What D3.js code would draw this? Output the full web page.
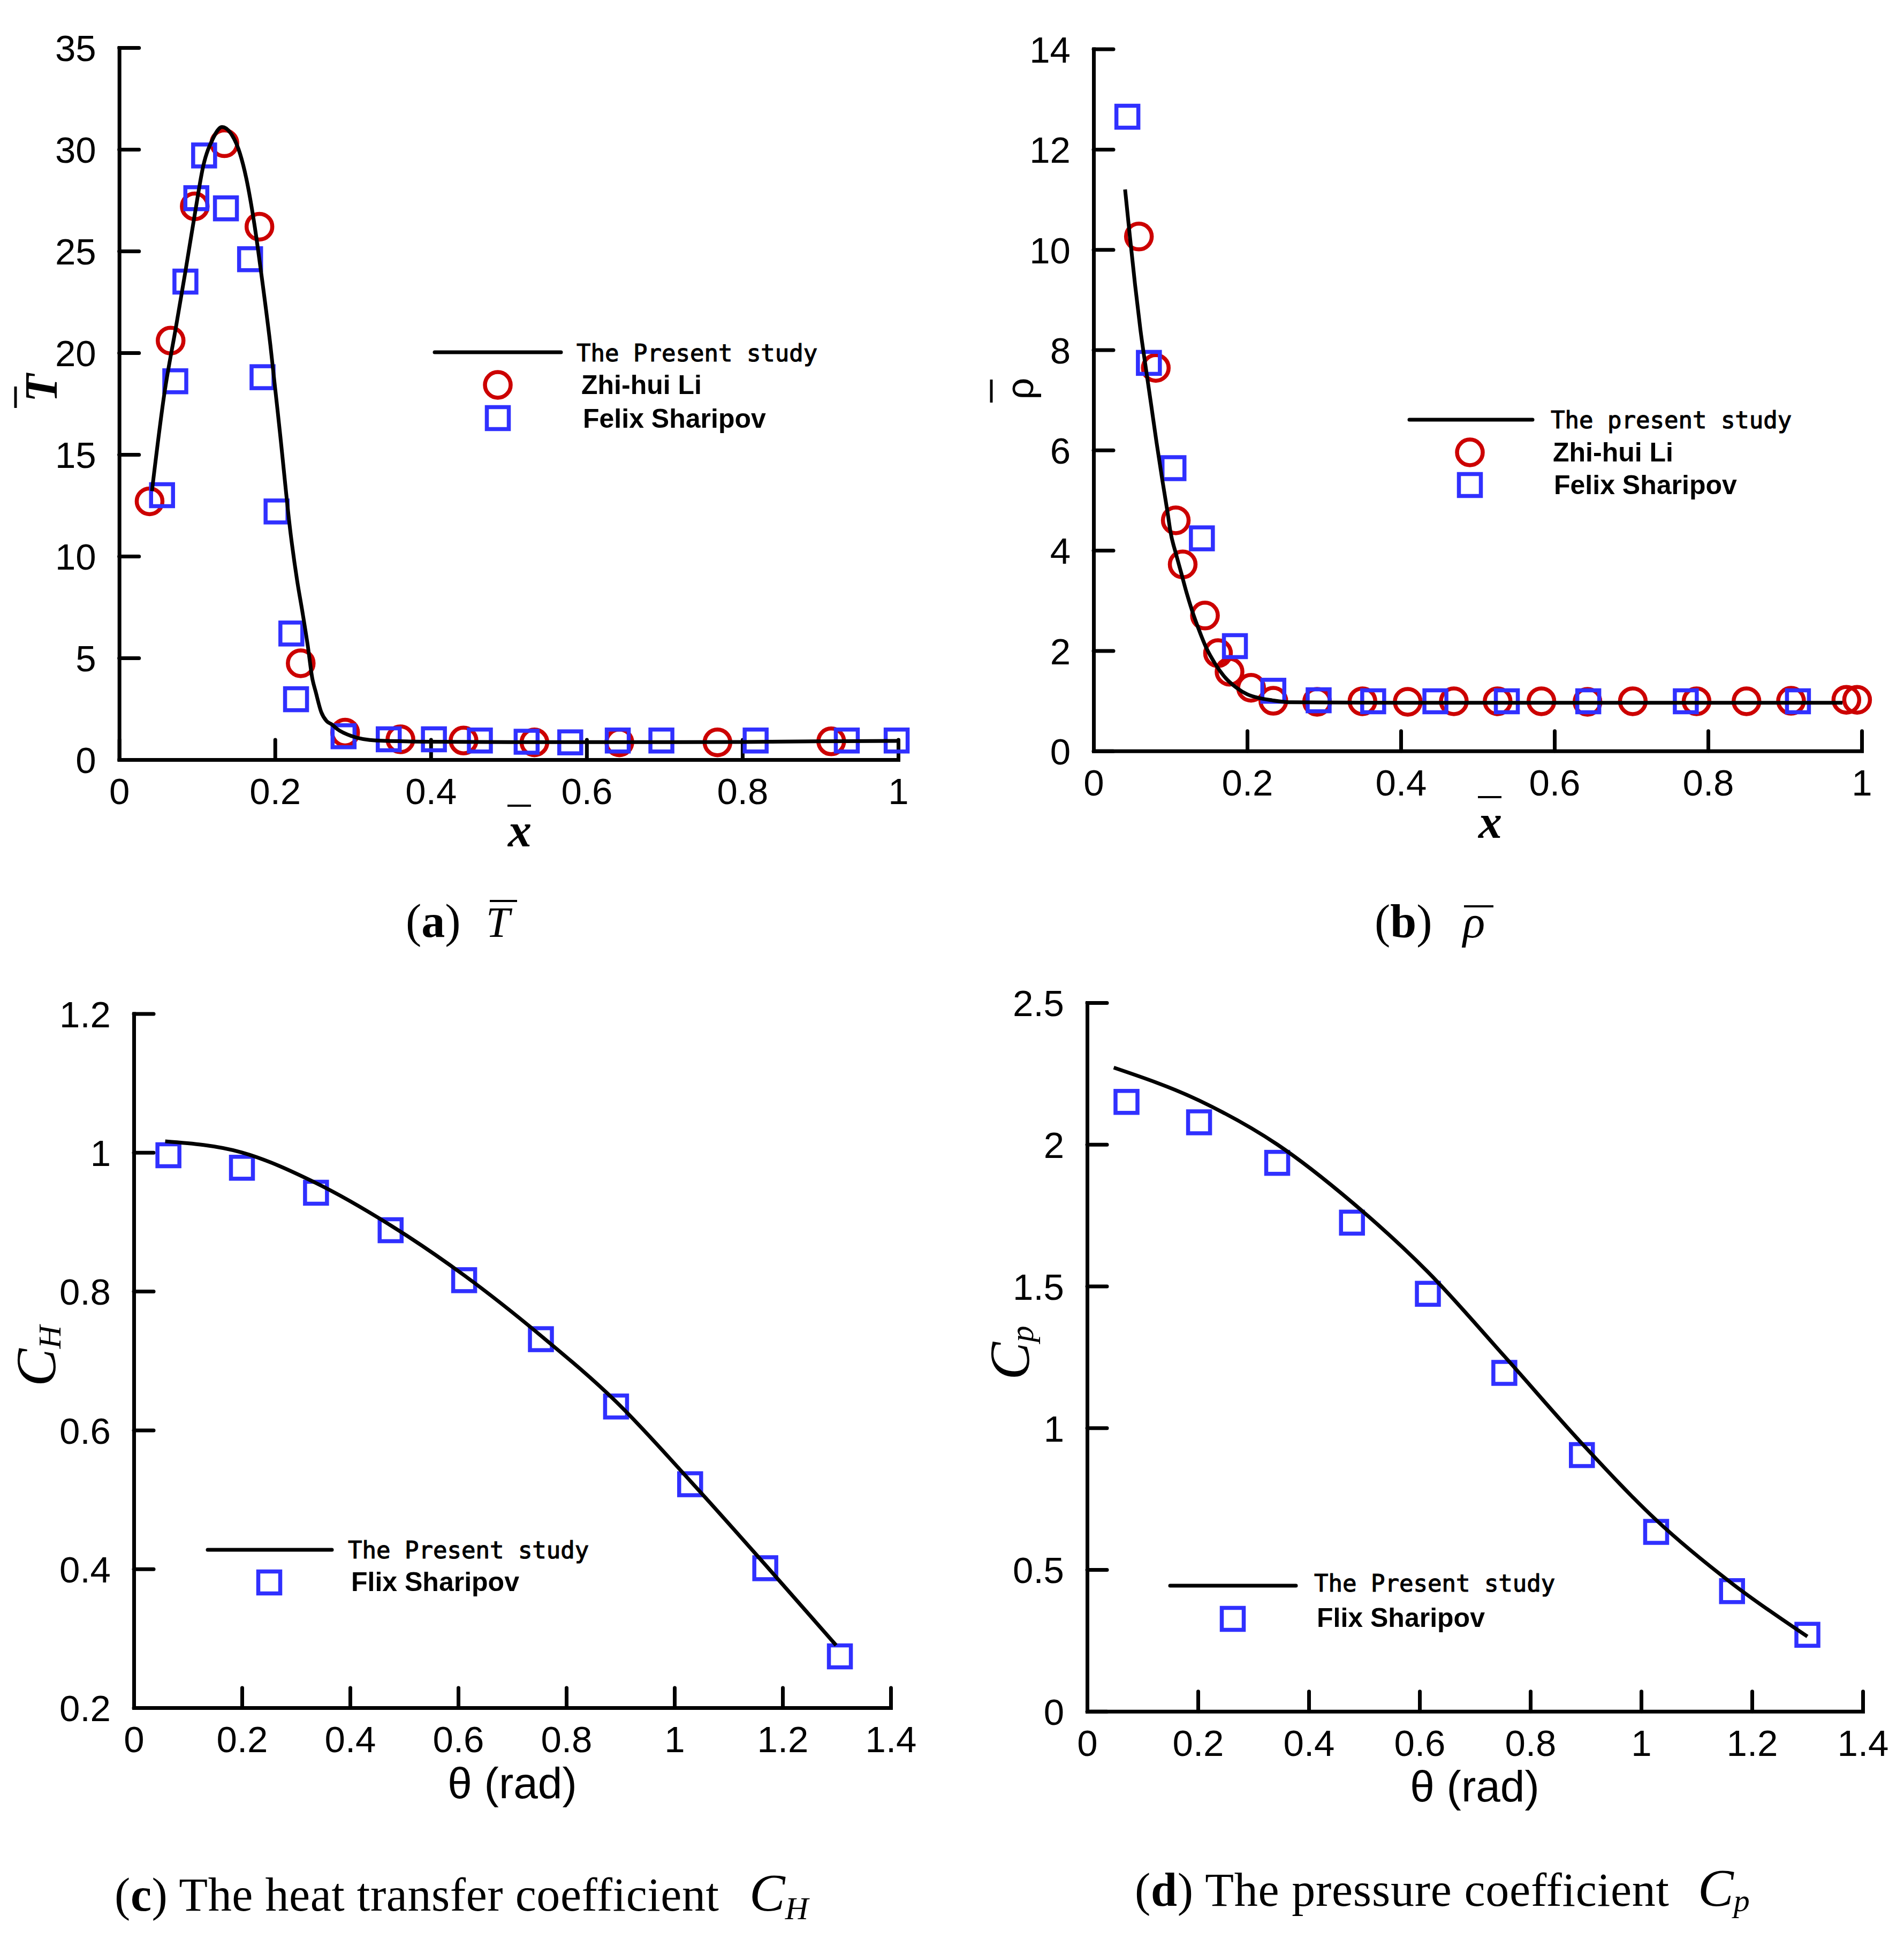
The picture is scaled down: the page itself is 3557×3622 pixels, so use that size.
<!DOCTYPE html>
<html>
<head>
<meta charset="utf-8">
<script src="https://cdn.jsdelivr.net/npm/d3@7"></script>
<style>
body { margin: 0; background: #fff; }
</style>
</head>
<body>
<div id="chart"></div>
<script>
// (a) mean temperature T along x
var tLine = [[0.042,13.2],[0.058,18.0],[0.073,21.3],[0.085,24.0],[0.097,26.8],[0.108,29.2],[0.120,30.5],
  [0.132,31.1],[0.143,30.8],[0.155,29.8],[0.163,28.6],[0.174,26.2],[0.182,24.0],[0.194,20.4],[0.206,16.2],
  [0.2203,11.03],[0.2283,8.83],[0.2352,7.26],[0.2421,5.59],[0.2478,4.01],[0.2524,3.31],[0.2593,2.34],
  [0.2661,1.90],[0.273,1.73],[0.280,1.5],[0.299,1.15],[0.330,0.94],[0.40,0.88],[0.50,0.86],[0.60,0.86],
  [0.70,0.86],[0.80,0.87],[0.90,0.90],[1.0,0.92]];
var tLi = [[0.039,12.7],[0.066,20.6],[0.097,27.2],[0.135,30.3],[0.180,26.2],[0.233,4.74],[0.290,1.33],
  [0.361,1.0],[0.442,0.94],[0.533,0.85],[0.642,0.85],[0.768,0.85],[0.914,0.9]];
var tSharipov = [[0.055,13.0],[0.072,18.6],[0.085,23.5],[0.099,27.6],[0.109,29.7],[0.137,27.1],[0.168,24.6],
  [0.184,18.8],[0.202,12.2],[0.221,6.2],[0.227,2.97],[0.288,1.15],[0.346,1.0],[0.404,1.0],[0.463,0.94],
  [0.523,0.88],[0.579,0.85],[0.640,0.94],[0.696,0.94],[0.817,0.94],[0.934,0.94],[0.998,0.94]];

// (b) mean density rho along x
var rhoLine = [[0.041,11.2],[0.047,10.3],[0.054,9.3],[0.061,8.4],[0.068,7.64],[0.075,6.9],[0.082,6.15],
  [0.089,5.45],[0.0966,4.73],[0.1001,4.37],[0.1071,3.94],[0.1141,3.55],[0.121,3.16],[0.128,2.81],[0.1373,2.41],
  [0.1466,2.06],[0.1582,1.74],[0.1721,1.45],[0.1861,1.26],[0.200,1.13],[0.2139,1.06],[0.2325,1.01],
  [0.258,0.97],[0.4,0.96],[0.6,0.96],[0.8,0.96],[0.975,0.96]];
var rhoLi = [[0.059,10.26],[0.081,7.64],[0.107,4.60],[0.116,3.72],[0.145,2.70],[0.162,1.95],[0.177,1.58],
  [0.205,1.26],[0.234,1.0],[0.291,0.98],[0.350,0.99],[0.409,0.98],[0.469,0.99],[0.526,0.99],[0.583,0.99],
  [0.643,0.98],[0.702,0.99],[0.785,0.99],[0.850,0.99],[0.908,1.0],[0.980,1.02],[0.994,1.02]];
var rhoSharipov = [[0.044,12.65],[0.072,7.74],[0.104,5.64],[0.141,4.24],[0.184,2.09],[0.234,1.20],[0.293,1.01],
  [0.364,0.99],[0.445,0.99],[0.538,0.99],[0.644,0.99],[0.771,0.99],[0.917,0.99]];

// (c) heat transfer coefficient vs theta
var chLine = [[0.058,1.016],[0.200,1.000],[0.337,0.956],[0.475,0.895],[0.611,0.823],[0.753,0.736],
  [0.892,0.641],[1.029,0.527],[1.168,0.406],[1.299,0.290]];
var chSharipov = [[0.064,0.996],[0.200,0.978],[0.337,0.942],[0.475,0.888],[0.611,0.816],[0.753,0.731],
  [0.892,0.634],[1.029,0.522],[1.168,0.401],[1.306,0.274]];

// (d) pressure coefficient vs theta
var cpLine = [[0.048,2.271],[0.202,2.155],[0.343,2.000],[0.478,1.796],[0.615,1.550],[0.753,1.253],
  [0.893,0.945],[1.027,0.675],[1.164,0.451],[1.300,0.264]];
var cpSharipov = [[0.071,2.150],[0.202,2.078],[0.343,1.935],[0.478,1.724],[0.615,1.473],[0.753,1.194],
  [0.893,0.904],[1.027,0.633],[1.164,0.424],[1.300,0.270]];

// ticks
var xTicksAB = [0, 0.2, 0.4, 0.6, 0.8, 1];
var yTicksA = [0, 5, 10, 15, 20, 25, 30, 35];
var yTicksB = [0, 2, 4, 6, 8, 10, 12, 14];
var xTicksCD = [0, 0.2, 0.4, 0.6, 0.8, 1, 1.2, 1.4];
var yTicksC = [0.2, 0.4, 0.6, 0.8, 1, 1.2];
var yTicksD = [0, 0.5, 1, 1.5, 2, 2.5];

var blue = "#3030ff", red = "#cc0000";
var sans = "'Liberation Sans', Arial, sans-serif";
var serif = "'Liberation Serif', 'Times New Roman', serif";
var mono = "'DejaVu Sans Mono', monospace";

var svg = d3.select("#chart").append("svg")
    .attr("width", 3557)
    .attr("height", 3622)
    .style("background", "#fff");

function fmt(d) { return String(+d.toFixed(2)); }

function drawPanel(p) {
    var x = d3.scaleLinear().domain(p.xDomain).range(p.xRange);
    var y = d3.scaleLinear().domain(p.yDomain).range(p.yRange);
    var g = svg.append("g");

    var xAxis = g.append("g")
        .attr("transform", "translate(0," + p.yRange[0] + ")")
        .call(d3.axisBottom(x).tickValues(p.xTicks).tickFormat(fmt).tickSizeInner(-37).tickSizeOuter(0));
    var yAxis = g.append("g")
        .attr("transform", "translate(" + p.xRange[0] + ",0)")
        .call(d3.axisLeft(y).tickValues(p.yTicks).tickFormat(fmt).tickSizeInner(-37).tickSizeOuter(0));

    [xAxis, yAxis].forEach(function(a) {
        a.select(".domain").attr("stroke", "#000").attr("stroke-width", 7).attr("stroke-linecap", "square");
        a.selectAll(".tick line").attr("stroke", "#000").attr("stroke-width", 7).attr("stroke-linecap", "round");
        a.selectAll(".tick text").attr("font-family", sans).attr("font-size", 69).attr("fill", "#000");
    });
    xAxis.selectAll(".tick text").attr("y", 83).attr("dy", null);
    yAxis.selectAll(".tick text").attr("x", -43).attr("dy", "0.36em");

    // markers
    if (p.circles) {
        g.append("g").selectAll("circle")
            .data(p.circles)
            .join("circle")
            .attr("cx", function(d) { return x(d[0]); })
            .attr("cy", function(d) { return y(d[1]); })
            .attr("r", 24)
            .attr("fill", "none")
            .attr("stroke", red)
            .attr("stroke-width", 7.5);
    }
    g.append("g").selectAll("rect")
        .data(p.squares)
        .join("rect")
        .attr("x", function(d) { return x(d[0]) - 20.5; })
        .attr("y", function(d) { return y(d[1]) - 20.5; })
        .attr("width", 41)
        .attr("height", 41)
        .attr("fill", "none")
        .attr("stroke", blue)
        .attr("stroke-width", 7.5);

    // present study curve
    var line = d3.line()
        .x(function(d) { return x(d[0]); })
        .y(function(d) { return y(d[1]); })
        .curve(d3.curveMonotoneX);
    g.append("path")
        .datum(p.line)
        .attr("fill", "none")
        .attr("stroke", "#000")
        .attr("stroke-width", 7)
        .attr("stroke-linejoin", "round")
        .attr("d", line);

    // legend
    var L = p.legend;
    g.append("line")
        .attr("x1", L.line[0]).attr("x2", L.line[1])
        .attr("y1", L.line[2]).attr("y2", L.line[2])
        .attr("stroke", "#000").attr("stroke-width", 7).attr("stroke-linecap", "round");
    g.append("text")
        .attr("x", L.text1[0]).attr("y", L.text1[1])
        .attr("font-family", mono).attr("font-size", 44)
        .attr("stroke", "#000").attr("stroke-width", 1.2)
        .text(L.label1);
    if (L.circle) {
        g.append("circle")
            .attr("cx", L.circle[0]).attr("cy", L.circle[1]).attr("r", 24)
            .attr("fill", "none").attr("stroke", red).attr("stroke-width", 7.5);
        g.append("text")
            .attr("x", L.text2[0]).attr("y", L.text2[1])
            .attr("font-family", sans).attr("font-weight", "bold").attr("font-size", 50)
            .text("Zhi-hui Li");
    }
    g.append("rect")
        .attr("x", L.square[0] - 20.5).attr("y", L.square[1] - 20.5)
        .attr("width", 41).attr("height", 41)
        .attr("fill", "none").attr("stroke", blue).attr("stroke-width", 7.5);
    g.append("text")
        .attr("x", L.text3[0]).attr("y", L.text3[1])
        .attr("font-family", sans).attr("font-weight", "bold").attr("font-size", 50)
        .text(L.label3);
}

drawPanel({
    xDomain: [0, 1], yDomain: [0, 35],
    xRange: [222.7, 1678], yRange: [1419, 89],
    xTicks: xTicksAB, yTicks: yTicksA,
    line: tLine, circles: tLi, squares: tSharipov,
    legend: { line: [812, 1048, 658], text1: [1077, 675], label1: "The Present study",
              circle: [930, 719], text2: [1086, 736],
              square: [930, 781], text3: [1089, 799], label3: "Felix Sharipov" }
});
drawPanel({
    xDomain: [0, 1], yDomain: [0, 14],
    xRange: [2043, 3478], yRange: [1402.7, 91.6],
    xTicks: xTicksAB, yTicks: yTicksB,
    line: rhoLine, circles: rhoLi, squares: rhoSharipov,
    legend: { line: [2633, 2863, 784], text1: [2897, 800], label1: "The present study",
              circle: [2746, 845], text2: [2901, 862],
              square: [2746, 906], text3: [2903, 923], label3: "Felix Sharipov" }
});
drawPanel({
    xDomain: [0, 1.4], yDomain: [0.2, 1.2],
    xRange: [250, 1664], yRange: [3190, 1893.5],
    xTicks: xTicksCD, yTicks: yTicksC,
    line: chLine, squares: chSharipov,
    legend: { line: [388, 620, 2895], text1: [650, 2911], label1: "The Present study",
              square: [503, 2956], text3: [656, 2972], label3: "Flix Sharipov" }
});
drawPanel({
    xDomain: [0, 1.4], yDomain: [0, 2.5],
    xRange: [2031, 3480], yRange: [3196.7, 1873],
    xTicks: xTicksCD, yTicks: yTicksD,
    line: cpLine, squares: cpSharipov,
    legend: { line: [2186, 2421, 2962], text1: [2455, 2973], label1: "The Present study",
              square: [2303, 3024], text3: [2460, 3039], label3: "Flix Sharipov" }
});

// axis titles
function bar(x1, y1, x2, y2, w) {
    svg.append("line").attr("x1", x1).attr("y1", y1).attr("x2", x2).attr("y2", y2)
        .attr("stroke", "#000").attr("stroke-width", w);
}

// (a)
svg.append("text").attr("x", 971).attr("y", 1581).attr("text-anchor", "middle")
    .attr("font-family", serif).attr("font-weight", "bold").attr("font-style", "italic").attr("font-size", 88)
    .text("x");
bar(948, 1505, 992, 1505, 4);
svg.append("text").attr("transform", "translate(106,725) rotate(-90)").attr("text-anchor", "middle")
    .attr("font-family", serif).attr("font-weight", "bold").attr("font-style", "italic").attr("font-size", 86)
    .text("T");
bar(29, 722, 29, 762, 5);

// (b)
svg.append("text").attr("x", 2784).attr("y", 1565).attr("text-anchor", "middle")
    .attr("font-family", serif).attr("font-weight", "bold").attr("font-style", "italic").attr("font-size", 88)
    .text("x");
bar(2761, 1489, 2805, 1489, 4);
svg.append("text").attr("transform", "translate(1930,726) rotate(-90)").attr("text-anchor", "middle")
    .attr("font-family", sans).attr("font-size", 72)
    .text("ρ");
bar(1852, 709, 1852, 752, 5);

// (c), (d)
svg.append("text").attr("x", 957).attr("y", 3359).attr("text-anchor", "middle")
    .attr("font-family", sans).attr("font-size", 82).text("θ (rad)");
svg.append("text").attr("x", 2755).attr("y", 3365).attr("text-anchor", "middle")
    .attr("font-family", sans).attr("font-size", 82).text("θ (rad)");

function subLabel(transform, main, sub, mainSize, subSize, dy, anchor) {
    var t = svg.append("text").attr("transform", transform).attr("text-anchor", anchor)
        .attr("font-family", serif).attr("font-style", "italic");
    t.append("tspan").attr("font-size", mainSize).text(main);
    t.append("tspan").attr("font-size", subSize).attr("dy", dy).text(sub);
}
subLabel("translate(103,2533) rotate(-90)", "C", "H", 106, 60, 10, "middle");
subLabel("translate(1922,2527) rotate(-90)", "C", "p", 106, 62, 8, "middle");

// captions
function caption(x, y, letter, rest, len) {
    var t = svg.append("text").attr("x", x).attr("y", y)
        .attr("font-family", serif).attr("font-size", 88);
    if (len) t.attr("textLength", len).attr("lengthAdjust", "spacing");
    t.append("tspan").text("(");
    t.append("tspan").attr("font-weight", "bold").text(letter);
    t.append("tspan").text(")" + rest);
}
caption(758, 1750, "a", "");
svg.append("text").attr("x", 908).attr("y", 1750)
    .attr("font-family", serif).attr("font-style", "italic").attr("font-size", 80).text("T");
bar(915, 1683, 966, 1683, 4);

caption(2568, 1751, "b", "");
svg.append("text").attr("x", 2733).attr("y", 1751)
    .attr("font-family", serif).attr("font-style", "italic").attr("font-size", 86).text("ρ");
bar(2735, 1693, 2790, 1693, 4);

caption(214, 3569, "c", " The heat transfer coefficient", 1129);
subLabel("translate(1400,3569)", "C", "H", 100, 60, 16, "start");

caption(2120, 3560, "d", " The pressure coefficient", 998);
subLabel("translate(3172,3560)", "C", "p", 100, 60, 10, "start");
</script>
</body>
</html>
